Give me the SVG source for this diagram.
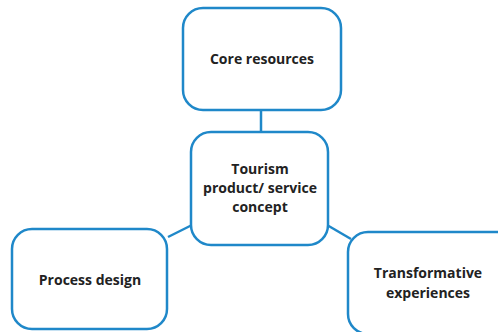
<svg xmlns="http://www.w3.org/2000/svg" width="498" height="332" viewBox="0 0 498 332">
<style>
.box{fill:#fff;stroke:#1f88c9;stroke-width:2.5}
.conn{stroke:#1f88c9;stroke-width:2.5;fill:none}
.t{font-family:"Open Sans","Liberation Sans",sans-serif;font-weight:bold;font-size:14px;fill:#222;text-anchor:middle}
</style>
<rect width="498" height="332" fill="#fff"/>
<g id="connectors">
<line class="conn" x1="261" y1="110" x2="261" y2="132"/>
<line class="conn" x1="168" y1="237" x2="192" y2="225"/>
<line class="conn" x1="327" y1="225" x2="351" y2="239"/>
</g>
<g id="core">
<rect class="box" x="183" y="8" width="158" height="102" rx="20"/>
<text class="t" x="262" y="64">Core resources</text>
</g>
<g id="concept">
<rect class="box" x="191" y="132" width="137" height="113" rx="20"/>
<text class="t" x="260" y="174">Tourism</text>
<text class="t" x="260" y="193">product/ service</text>
<text class="t" x="260" y="212">concept</text>
</g>
<g id="process">
<rect class="box" x="12" y="229" width="155" height="100" rx="20"/>
<text class="t" x="90" y="285">Process design</text>
</g>
<g id="transform">
<rect class="box" x="348" y="232" width="168" height="102" rx="20"/>
<text class="t" x="428" y="278">Transformative</text>
<text class="t" x="428" y="298">experiences</text>
</g>
</svg>
